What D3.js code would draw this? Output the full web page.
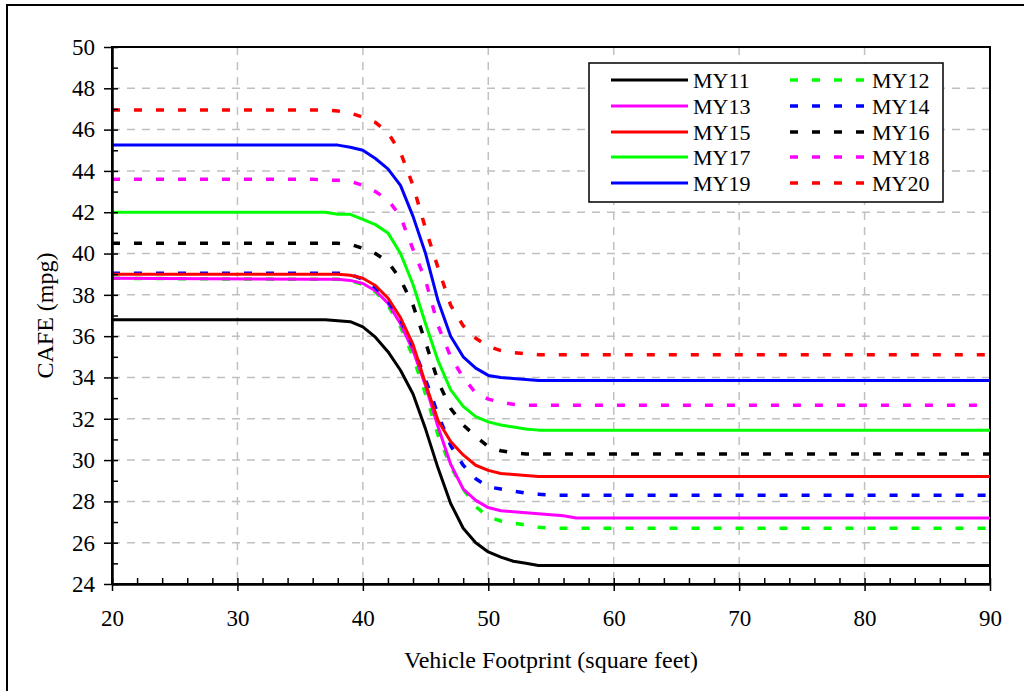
<!DOCTYPE html>
<html>
<head>
<meta charset="utf-8">
<script src="https://cdn.jsdelivr.net/npm/d3@7"></script>
<style>
  body { margin: 0; background: #fff; }
  svg { display: block; }
  svg text { font-family: "Liberation Serif", "Times New Roman", Times, serif; }
</style>
</head>
<body>
<svg id="chart"></svg>
<script>
// footprint (sq ft) and CAFE target (mpg)
var footprint = [20, 36, 37, 38, 39, 40, 41, 42, 43, 44, 45, 46, 47, 48, 49, 50, 51, 52, 53, 54, 55, 56, 57, 90];

var my11 = [36.8, 36.8, 36.8, 36.75, 36.7, 36.45, 35.95, 35.25, 34.35, 33.2, 31.5, 29.6, 27.9, 26.7, 26.0, 25.55, 25.3, 25.1, 25.0, 24.9, 24.9, 24.9, 24.9, 24.9];
var my12 = [38.8, 38.75, 38.75, 38.75, 38.7, 38.5, 38.15, 37.5, 36.45, 35.0, 33.2, 31.2, 29.7, 28.6, 27.75, 27.25, 27.05, 26.95, 26.85, 26.75, 26.7, 26.7, 26.7, 26.7];
var my13 = [38.8, 38.75, 38.75, 38.75, 38.7, 38.55, 38.2, 37.6, 36.6, 35.3, 33.6, 31.6, 29.8, 28.6, 28.05, 27.7, 27.55, 27.5, 27.45, 27.4, 27.35, 27.3, 27.2, 27.2];
var my14 = [39.05, 39.05, 39.05, 39.05, 39.0, 38.75, 38.35, 37.7, 36.8, 35.5, 33.9, 32.2, 30.7, 29.75, 29.1, 28.7, 28.6, 28.5, 28.4, 28.35, 28.3, 28.3, 28.3, 28.3];
var my15 = [39.0, 39.0, 39.0, 39.0, 38.95, 38.8, 38.45, 37.85, 36.9, 35.6, 33.7, 31.9, 30.9, 30.25, 29.75, 29.5, 29.35, 29.3, 29.25, 29.2, 29.2, 29.2, 29.2, 29.2];
var my16 = [40.5, 40.5, 40.5, 40.5, 40.45, 40.25, 40.0, 39.6, 38.75, 37.5, 35.7, 33.8, 32.5, 31.7, 31.15, 30.65, 30.45, 30.35, 30.3, 30.3, 30.3, 30.3, 30.3, 30.3];
var my17 = [42.0, 42.0, 42.0, 41.9, 41.9, 41.65, 41.4, 41.0, 40.0, 38.5, 36.6, 34.8, 33.4, 32.6, 32.1, 31.85, 31.7, 31.6, 31.5, 31.45, 31.45, 31.45, 31.45, 31.45];
var my18 = [43.6, 43.6, 43.55, 43.55, 43.5, 43.3, 43.0, 42.6, 41.8, 40.2, 38.7, 36.5, 35.0, 34.0, 33.25, 32.95, 32.8, 32.7, 32.65, 32.65, 32.65, 32.65, 32.65, 32.65];
var my19 = [45.25, 45.25, 45.25, 45.25, 45.15, 45.0, 44.6, 44.1, 43.3, 41.8, 40.0, 37.7, 36.0, 35.0, 34.45, 34.1, 34.0, 33.95, 33.9, 33.85, 33.85, 33.85, 33.85, 33.85];
var my20 = [46.95, 46.95, 46.95, 46.9, 46.8, 46.6, 46.35, 45.85, 44.9, 43.3, 41.2, 39.3, 37.5, 36.5, 35.9, 35.5, 35.3, 35.2, 35.15, 35.1, 35.1, 35.1, 35.1, 35.1];

var xTicks = [20, 30, 40, 50, 60, 70, 80, 90];
var yTicks = [24, 26, 28, 30, 32, 34, 36, 38, 40, 42, 44, 46, 48, 50];

var series = [
    {name: "MY11", values: my11, color: "#000000", dashed: false},
    {name: "MY12", values: my12, color: "#00ff00", dashed: true},
    {name: "MY13", values: my13, color: "#ff00ff", dashed: false},
    {name: "MY14", values: my14, color: "#0000ff", dashed: true},
    {name: "MY15", values: my15, color: "#ff0000", dashed: false},
    {name: "MY16", values: my16, color: "#000000", dashed: true},
    {name: "MY17", values: my17, color: "#00ff00", dashed: false},
    {name: "MY18", values: my18, color: "#ff00ff", dashed: true},
    {name: "MY19", values: my19, color: "#0000ff", dashed: false},
    {name: "MY20", values: my20, color: "#ff0000", dashed: true}
];

var width = 1024;
var height = 691;
var margin = {top: 47, right: 34, bottom: 107, left: 112};
var serif = "'Liberation Serif', 'Times New Roman', Times, serif";

var svg = d3.select("#chart")
    .attr("width", width)
    .attr("height", height);

// page frame
svg.append("rect")
    .attr("x", 7).attr("y", 5)
    .attr("width", 1040).attr("height", 720)
    .attr("fill", "none")
    .attr("stroke", "#000")
    .attr("stroke-width", 2);

var xScale = d3.scaleLinear()
    .domain([20, 90])
    .range([margin.left, width - margin.right]);

var yScale = d3.scaleLinear()
    .domain([24, 50])
    .range([height - margin.bottom, margin.top]);

// dashed grid
svg.append("g")
    .selectAll("line")
    .data(yTicks.filter(function (d) { return d > 24 && d < 50; }))
    .enter().append("line")
    .attr("x1", xScale(20)).attr("x2", xScale(90))
    .attr("y1", function (d) { return yScale(d); })
    .attr("y2", function (d) { return yScale(d); })
    .attr("stroke", "#c0c0c0")
    .attr("stroke-width", 1.5)
    .attr("stroke-dasharray", "8,7");

svg.append("g")
    .selectAll("line")
    .data(xTicks.filter(function (d) { return d > 20 && d < 90; }))
    .enter().append("line")
    .attr("x1", function (d) { return xScale(d); })
    .attr("x2", function (d) { return xScale(d); })
    .attr("y1", yScale(50)).attr("y2", yScale(24))
    .attr("stroke", "#c0c0c0")
    .attr("stroke-width", 1.5)
    .attr("stroke-dasharray", "8,7");

// plot frame
svg.append("rect")
    .attr("x", xScale(20)).attr("y", yScale(50))
    .attr("width", xScale(90) - xScale(20))
    .attr("height", yScale(24) - yScale(50))
    .attr("fill", "none")
    .attr("stroke", "#000")
    .attr("stroke-width", 2);

// lines
var line = d3.line()
    .x(function (d) { return xScale(d[0]); })
    .y(function (d) { return yScale(d[1]); });

svg.append("g")
    .selectAll("path")
    .data(series)
    .enter().append("path")
    .attr("d", function (s) {
        return line(footprint.map(function (f, i) { return [f, s.values[i]]; }));
    })
    .attr("fill", "none")
    .attr("stroke", function (s) { return s.color; })
    .attr("stroke-width", function (s) { return s.dashed ? 3.5 : 3; })
    .attr("stroke-dasharray", function (s) { return s.dashed ? "8,14" : null; })
    .attr("stroke-linejoin", "round");

// axes
var xAxis = svg.append("g")
    .attr("transform", "translate(0," + yScale(24) + ")")
    .call(d3.axisBottom(xScale).tickValues(xTicks).tickSizeInner(7).tickSizeOuter(0).tickPadding(19));
var xMinor = svg.append("g")
    .attr("transform", "translate(0," + yScale(24) + ")")
    .call(d3.axisBottom(xScale).tickValues(d3.range(20, 91, 2)).tickSizeInner(-6).tickSizeOuter(0).tickFormat(""));

var yAxis = svg.append("g")
    .attr("transform", "translate(" + xScale(20) + ",0)")
    .call(d3.axisLeft(yScale).tickValues(yTicks).tickSizeInner(8).tickSizeOuter(0).tickPadding(9));
var yMinor = svg.append("g")
    .attr("transform", "translate(" + xScale(20) + ",0)")
    .call(d3.axisLeft(yScale).tickValues(d3.range(24, 51, 1)).tickSizeInner(-6).tickSizeOuter(0).tickFormat(""));

[xAxis, xMinor, yAxis, yMinor].forEach(function (g) {
    g.attr("font-family", null);
    g.select(".domain").attr("stroke", "#000").attr("stroke-width", 2);
    g.selectAll(".tick line").attr("stroke", "#000").attr("stroke-width", 1.5);
    g.selectAll("text")
        .attr("fill", "#000")
        .style("font-size", "23px")
        .style("font-family", serif);
});

svg.append("text")
    .attr("x", 551).attr("y", 668)
    .attr("text-anchor", "middle")
    .style("font-size", "24px")
    .style("font-family", serif)
    .attr("fill", "#000")
    .text("Vehicle Footprint (square feet)");

svg.append("text")
    .attr("transform", "translate(53," + ((yScale(50) + yScale(24)) / 2) + ")rotate(-90)")
    .attr("text-anchor", "middle")
    .style("font-size", "24px")
    .style("font-family", serif)
    .attr("fill", "#000")
    .text("CAFE (mpg)");

// legend
var legend = svg.append("g");
legend.append("rect")
    .attr("x", 589).attr("y", 63)
    .attr("width", 354).attr("height", 139)
    .attr("fill", "#fff")
    .attr("stroke", "#000")
    .attr("stroke-width", 1.5);

var rowY = [80, 106, 132, 157, 183];
series.forEach(function (s, i) {
    var col = i % 2;
    var row = Math.floor(i / 2);
    var x0 = col === 0 ? 611 : 790;
    var x1 = col === 0 ? 688 : 864;
    legend.append("line")
        .attr("x1", x0).attr("x2", x1)
        .attr("y1", rowY[row]).attr("y2", rowY[row])
        .attr("stroke", s.color)
        .attr("stroke-width", s.dashed ? 3.5 : 3)
        .attr("stroke-dasharray", s.dashed ? "8,14" : null);
    legend.append("text")
        .attr("x", col === 0 ? 693 : 872)
        .attr("y", rowY[row] + 8)
        .style("font-size", "22px")
        .style("font-family", serif)
        .attr("fill", "#000")
        .text(s.name);
});
</script>
</body>
</html>
